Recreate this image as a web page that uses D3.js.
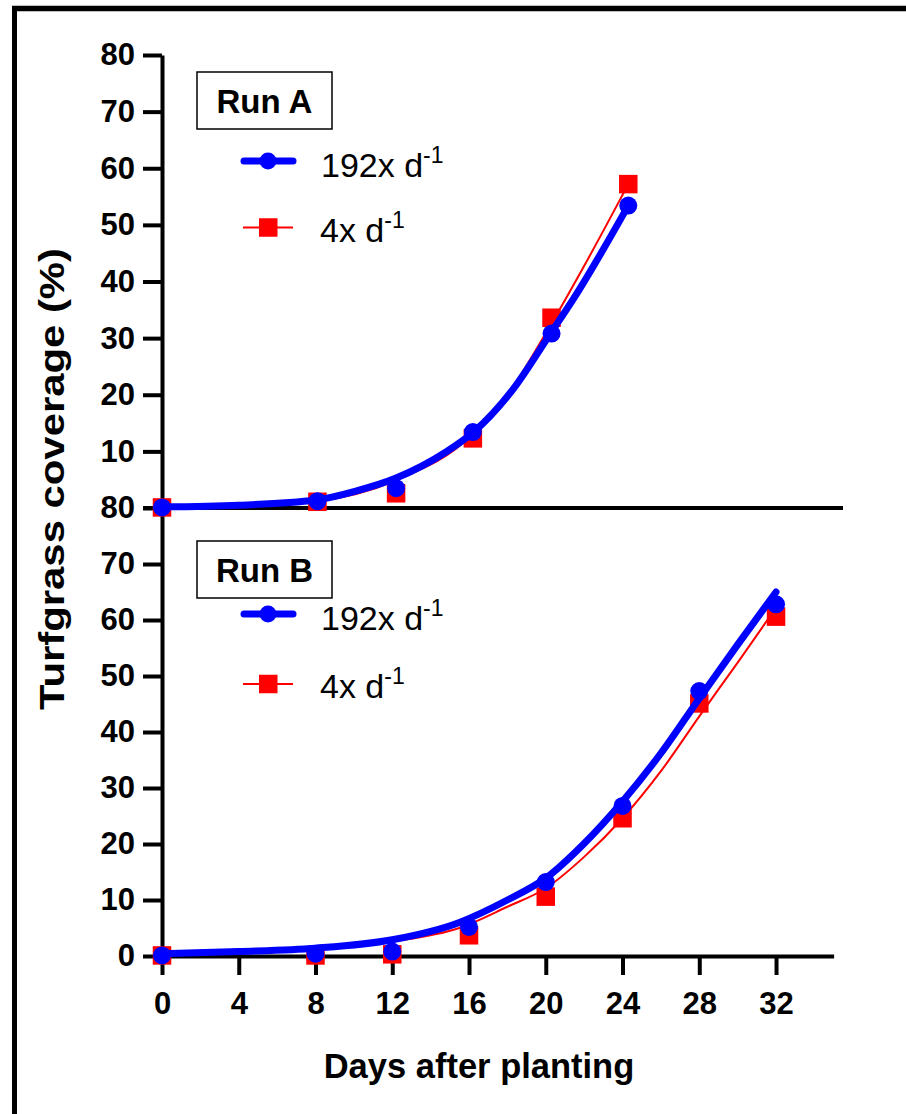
<!DOCTYPE html>
<html>
<head>
<meta charset="utf-8">
<script src="https://cdn.jsdelivr.net/npm/d3@7"></script>
<style>
  html, body { margin: 0; padding: 0; background: #fff; }
  svg { display: block; }
  text { font-family: "Liberation Sans", Arial, sans-serif; }
</style>
</head>
<body>
<svg id="chart" width="906" height="1114"></svg>
<script>
// ---------- data ----------
// Run A observed points
const daysA = [0, 8.1, 12.2, 16.2, 20.3, 24.3];
const highA = [0.1, 1.2, 3.5, 13.4, 30.8, 53.4];   // 192x d-1
const lowA  = [0.1, 1.1, 2.6, 12.3, 33.6, 57.2];   // 4x d-1
// Run A fitted curves
const fitHighAx = [0, 4, 8, 10.1, 12.2, 14.8, 16.2, 18.3, 20.2, 21.4, 24.3];
const fitHighAy = [0.2, 0.5, 1.4, 3.0, 5.3, 9.9, 13.3, 21.0, 30.6, 36.7, 53.4];
const fitLowAx  = [0, 4, 8, 12.2, 16.2, 18.3, 20.3, 22.3, 24.3];
const fitLowAy  = [0.2, 0.5, 1.2, 4.9, 13.0, 21.5, 32.6, 44.6, 57.2];

// Run B observed points
const daysB = [0, 8, 12, 16, 20, 24, 28, 32];
const highB = [0.1, 0.4, 0.8, 5.2, 13.2, 26.8, 47.3, 62.8];
const lowB  = [0.1, 0.1, 0.3, 3.7, 10.6, 24.6, 45.1, 60.6];
// Run B fitted curves
const fitHighBx = [0, 4, 8, 12, 15.5, 18, 20, 22, 24, 26, 28, 30, 32];
const fitHighBy = [0.4, 0.8, 1.4, 2.9, 6.0, 10.0, 13.9, 20.1, 27.6, 36.2, 46.0, 55.6, 65.0];
const fitLowBx  = [0, 4, 8, 12, 15.5, 18, 20, 22, 24, 26, 28, 30, 32];
const fitLowBy  = [0.2, 0.6, 1.2, 2.6, 5.0, 8.8, 12.1, 17.7, 24.6, 33.0, 42.8, 52.4, 62.2];

const xTicks = [0, 4, 8, 12, 16, 20, 24, 28, 32];
const yTicksA = [10, 20, 30, 40, 50, 60, 70, 80];
const yTicksB = [0, 10, 20, 30, 40, 50, 60, 70, 80];
const seriesNames = ["192x d", "4x d"];
const superscript = "-1";
const runLabels = ["Run A", "Run B"];
const xTitle = "Days after planting";
const yTitle = "Turfgrass coverage (%)";

// ---------- setup ----------
const svg = d3.select("#chart");
svg.append("rect").attr("width", 906).attr("height", 1114).attr("fill", "#fff");

const x  = d3.scaleLinear().domain([0, 35]).range([162, 833.6]);
const yA = d3.scaleLinear().domain([0, 80]).range([508, 55]);
const yB = d3.scaleLinear().domain([0, 80]).range([956, 508]);

const BLUE = "#0000ff", RED = "#ff0000";

// outer frame
svg.append("line").attr("x1", 12).attr("x2", 906).attr("y1", 8.5).attr("y2", 8.5)
  .attr("stroke", "#000").attr("stroke-width", 5.5);
svg.append("line").attr("x1", 14.5).attr("x2", 14.5).attr("y1", 6).attr("y2", 1114)
  .attr("stroke", "#000").attr("stroke-width", 5);

function styleAxis(g) {
  g.selectAll("path, line").attr("stroke", "#000").attr("stroke-width", 4);
  g.selectAll("text").attr("fill", "#000").attr("font-size", 31).attr("font-weight", "bold")
    .attr("font-family", "Liberation Sans, Arial, sans-serif");
}

// y axes
const gyA = svg.append("g").attr("transform", `translate(${x(0)},0)`)
  .call(d3.axisLeft(yA).tickValues(yTicksA).tickSize(19).tickSizeOuter(0).tickPadding(8));
styleAxis(gyA);
const gyB = svg.append("g").attr("transform", `translate(${x(0)},0)`)
  .call(d3.axisLeft(yB).tickValues(yTicksB).tickSize(19).tickSizeOuter(0).tickPadding(8));
styleAxis(gyB);

// middle line (Run A baseline)
svg.append("line").attr("x1", x(0) - 19).attr("x2", 843).attr("y1", yA(0)).attr("y2", yA(0))
  .attr("stroke", "#000").attr("stroke-width", 4);

// x axis
const gx = svg.append("g").attr("transform", `translate(0,${yB(0)})`)
  .call(d3.axisBottom(x).tickValues(xTicks).tickSize(19).tickSizeOuter(0).tickPadding(17));
styleAxis(gx);

// axis titles
svg.append("text").attr("x", 479).attr("y", 1078).attr("text-anchor", "middle")
  .attr("font-size", 34.5).attr("font-weight", "bold").text(xTitle);
svg.append("text").attr("transform", "translate(64,479) rotate(-90)").attr("text-anchor", "middle")
  .attr("font-size", 35).attr("font-weight", "bold")
  .attr("textLength", 462).attr("lengthAdjust", "spacingAndGlyphs").text(yTitle);

// ---------- series ----------
const line = (ys) => d3.line().x(d => x(d[0])).y(d => ys(d[1])).curve(d3.curveMonotoneX);

function drawPanel(ys, days, hi, lo, fhx, fhy, flx, fly) {
  const g = svg.append("g");
  g.append("path").datum(d3.zip(flx, fly)).attr("d", line(ys))
    .attr("fill", "none").attr("stroke", RED).attr("stroke-width", 2);
  g.selectAll(".sq").data(d3.zip(days, lo)).join("rect")
    .attr("x", d => x(d[0]) - 9.25).attr("y", d => ys(d[1]) - 9.25)
    .attr("width", 18.5).attr("height", 18.5).attr("fill", RED);
  g.append("path").datum(d3.zip(fhx, fhy)).attr("d", line(ys))
    .attr("fill", "none").attr("stroke", BLUE).attr("stroke-width", 7).attr("stroke-linecap", "round");
  g.selectAll(".ci").data(d3.zip(days, hi)).join("circle")
    .attr("cx", d => x(d[0])).attr("cy", d => ys(d[1])).attr("r", 9).attr("fill", BLUE);
}
drawPanel(yA, daysA, highA, lowA, fitHighAx, fitHighAy, fitLowAx, fitLowAy);
drawPanel(yB, daysB, highB, lowB, fitHighBx, fitHighBy, fitLowBx, fitLowBy);

// ---------- legends ----------
function drawLegend(boxTop, blueY, redY, label) {
  svg.append("rect").attr("x", 197).attr("y", boxTop).attr("width", 135).attr("height", 57)
    .attr("fill", "#fff").attr("stroke", "#000").attr("stroke-width", 1.5);
  svg.append("text").attr("x", 264.5).attr("y", boxTop + 41).attr("text-anchor", "middle")
    .attr("font-size", 33).attr("font-weight", "bold").text(label);
  // blue
  svg.append("line").attr("x1", 244).attr("x2", 293).attr("y1", blueY).attr("y2", blueY)
    .attr("stroke", BLUE).attr("stroke-width", 7).attr("stroke-linecap", "round");
  svg.append("circle").attr("cx", 268).attr("cy", blueY).attr("r", 8.5).attr("fill", BLUE);
  const t1 = svg.append("text").attr("x", 321).attr("y", blueY + 15.5).attr("font-size", 34);
  t1.append("tspan").text(seriesNames[0]);
  t1.append("tspan").attr("font-size", 23).attr("dy", -14).text(superscript);
  // red
  svg.append("line").attr("x1", 243).attr("x2", 293).attr("y1", redY).attr("y2", redY)
    .attr("stroke", RED).attr("stroke-width", 1.8);
  svg.append("rect").attr("x", 259).attr("y", redY - 9.25).attr("width", 18.5).attr("height", 18.5)
    .attr("fill", RED);
  const t2 = svg.append("text").attr("x", 320).attr("y", redY + 14).attr("font-size", 34);
  t2.append("tspan").text(seriesNames[1]);
  t2.append("tspan").attr("font-size", 23).attr("dy", -14).text(superscript);
}
drawLegend(72, 161, 227.5, runLabels[0]);
drawLegend(541, 614, 684, runLabels[1]);
</script>
</body>
</html>
